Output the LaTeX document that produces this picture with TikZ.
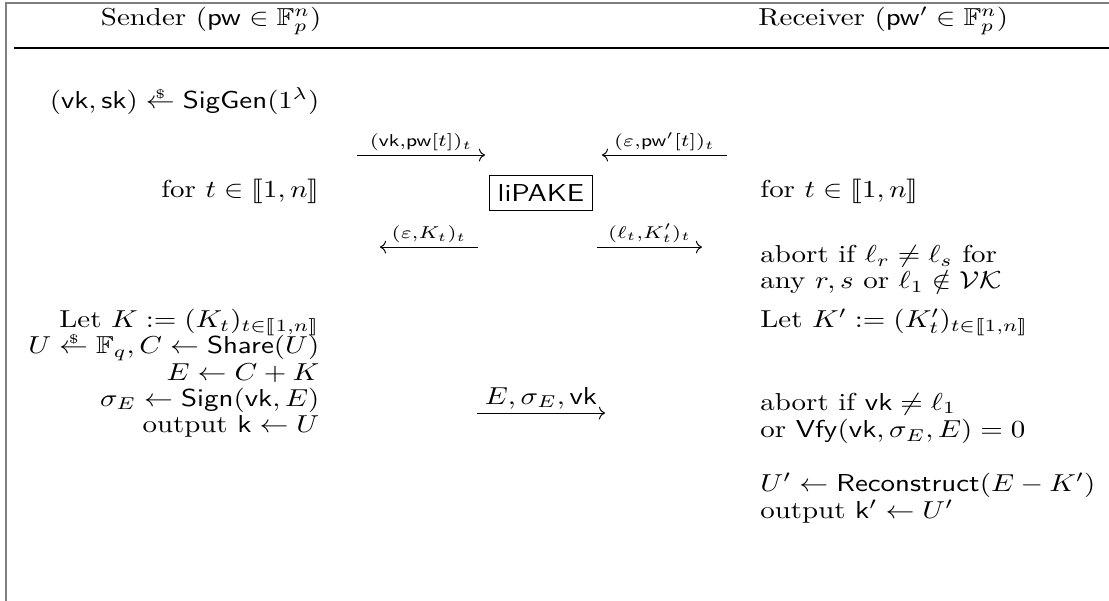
\documentclass[tikz,border=0pt]{standalone}
\usepackage{tikz}
\usetikzlibrary{arrows.meta}
\usepackage{amsmath,amssymb}
\usepackage{stmaryrd}
\definecolor{framegray}{HTML}{7F7F7F}
\newcommand{\rnd}{\mathrel{\vbox{\offinterlineskip\ialign{\hfil##\hfil\cr
  $\scriptscriptstyle\$$\cr\noalign{\kern0.05ex}$\leftarrow$\cr}}}}
\newcommand{\intv}{\llbracket 1,n\rrbracket}

\begin{document}
\begin{tikzpicture}[
  xscale=1.18,
  every node/.append style={transform shape},
  lcol/.style={anchor=mid east,inner sep=0pt},
  rcol/.style={anchor=mid west,inner sep=0pt},
  msg/.style={line width=0.4pt,-{To}},
  lbl/.style={above,inner sep=1.5pt},
]
  \useasboundingbox (0,0) rectangle (13.48,8.62);

  % Frame and header
  \draw[framegray,line width=0.8pt] (0.073,0) -- (0.073,8.575) -- (13.48,8.575);
  \draw[line width=0.5pt] (0.17,7.93) -- (13.48,7.93);
  \node[lcol] (snd) at (3.913,8.33) {Sender ($\mathsf{pw}\in\mathbb{F}_p^n$)};
  \node[rcol] (rcv) at (9.212,8.33) {Receiver ($\mathsf{pw}'\in\mathbb{F}_p^n$)};

  % Sender side
  \node[lcol] (s1) at (3.889,7.141) {$(\mathsf{vk},\mathsf{sk})\rnd\mathsf{SigGen}(1^\lambda)$};
  \node[lcol] (s2) at (3.889,5.865) {for $t\in\intv$};
  \node[lcol] (s3) at (3.889,4.001) {Let $K:=(K_t)_{t\in\intv}$};
  \node[lcol] (s4) at (3.889,3.628) {$U\rnd\mathbb{F}_q,C\leftarrow\mathsf{Share}(U)$};
  \node[lcol] (s5) at (3.889,3.241) {$E\leftarrow C+K$};
  \node[lcol] (s6) at (3.889,2.868) {$\sigma_E\leftarrow\mathsf{Sign}(\mathsf{vk},E)$};
  \node[lcol] (s7) at (3.889,2.495) {output $\mathsf{k}\leftarrow U$};

  % Receiver side
  \node[rcol] (r1) at (9.236,5.865) {for $t\in\intv$};
  \node[rcol] (r2) at (9.236,4.933) {abort if $\ell_r\neq\ell_s$ for};
  \node[rcol] (r3) at (9.236,4.560) {any $r,s$ or $\ell_1\notin\mathcal{VK}$};
  \node[rcol] (r4) at (9.236,4.001) {Let $K':=(K'_t)_{t\in\intv}$};
  \node[rcol] (r5) at (9.236,2.811) {abort if $\mathsf{vk}\neq\ell_1$};
  \node[rcol] (r6) at (9.236,2.423) {or $\mathsf{Vfy}(\mathsf{vk},\sigma_E,E)=0$};
  \node[rcol] (r7) at (9.236,1.649) {$U'\leftarrow\mathsf{Reconstruct}(E-K')$};
  \node[rcol] (r8) at (9.236,1.262) {output $\mathsf{k}'\leftarrow U'$};

  % liPAKE in the middle
  \node[draw,line width=0.4pt,font=\sffamily,inner sep=3pt,minimum height=14.5pt] (pake) at (6.575,5.851) {liPAKE};

  % Message ends
  \coordinate (a1s) at (4.339,6.396);  \coordinate (a1e) at (5.894,6.396);
  \coordinate (a2s) at (8.835,6.396);  \coordinate (a2e) at (7.316,6.396);
  \coordinate (a3s) at (5.809,5.076);  \coordinate (a3e) at (4.618,5.076);
  \coordinate (a4s) at (7.255,5.076);  \coordinate (a4e) at (8.531,5.076);
  \coordinate (a5s) at (5.797,2.696);  \coordinate (a5e) at (7.353,2.696);

  % Messages
  \draw[msg] (a1s) -- node[lbl] (m1) {$\scriptstyle(\mathsf{vk},\mathsf{pw}[t])_t$} (a1e);
  \draw[msg] (a2s) -- node[lbl] (m2) {$\scriptstyle(\varepsilon,\mathsf{pw}'[t])_t$} (a2e);
  \draw[msg] (a3s) -- node[lbl] (m3) {$\scriptstyle(\varepsilon,K_t)_t$} (a3e);
  \draw[msg] (a4s) -- node[lbl] (m4) {$\scriptstyle(\ell_t,K'_t)_t$} (a4e);
  \draw[msg] (a5s) -- node[lbl] (m5) {$E,\sigma_E,\mathsf{vk}$} (a5e);
\end{tikzpicture}
\end{document}
